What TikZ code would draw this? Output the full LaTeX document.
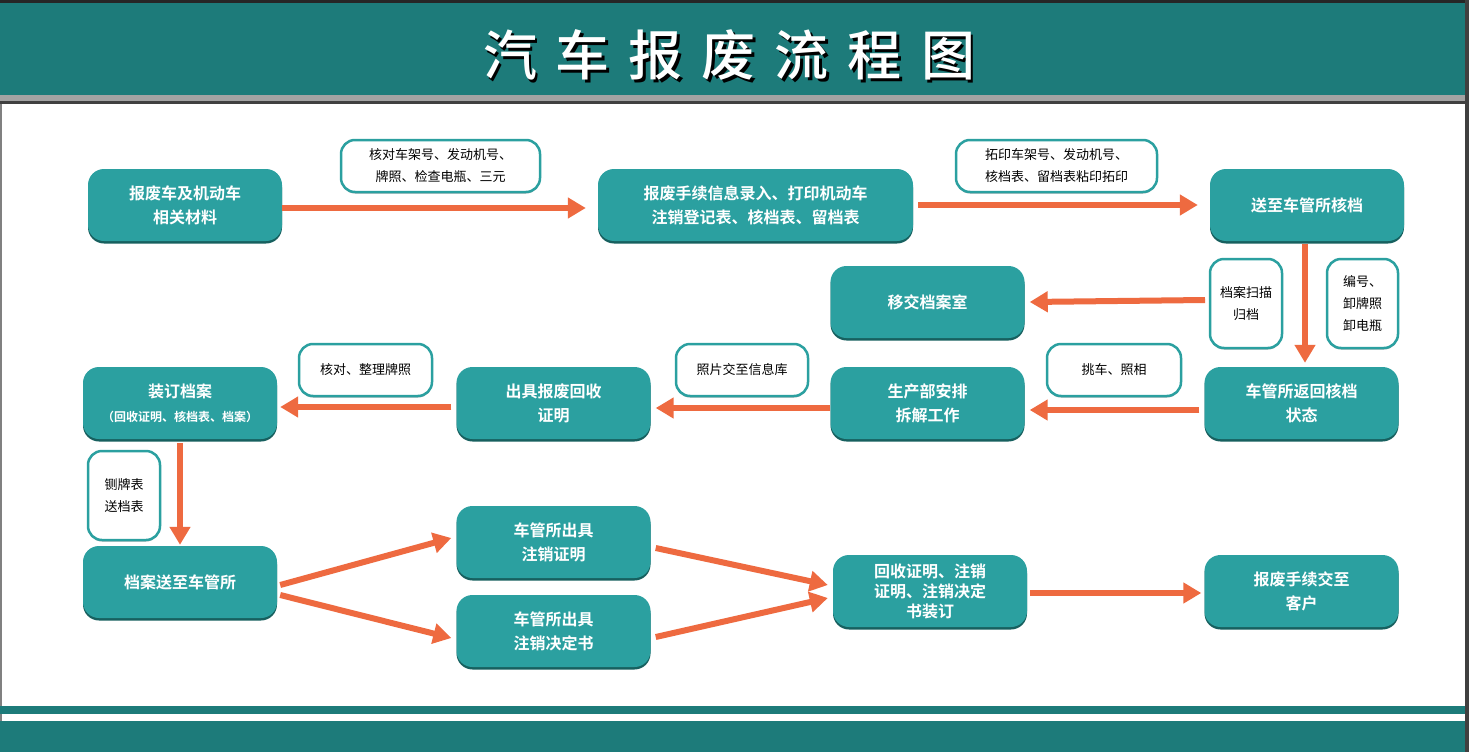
\documentclass[tikz,border=0pt]{standalone}
\usepackage{fontspec}
\setmainfont{Noto Sans CJK SC}
\newfontfamily\cjkb{Noto Sans CJK SC Bold}
\newfontfamily\cjkm{Noto Sans CJK SC Medium}
\usetikzlibrary{arrows.meta,shadows}
\definecolor{tealbox}{HTML}{2BA0A0}
\definecolor{tealdark}{HTML}{1D7B7A}
\definecolor{tealshadow}{HTML}{17605F}
\definecolor{arrowc}{HTML}{EE6A40}
\definecolor{grayband}{HTML}{A3A3A3}
\begin{document}
\begin{tikzpicture}[x=1pt,y=-1pt,
  box/.style={rounded corners=16pt,fill=tealbox,minimum width=194pt,minimum height=72pt,
    text=white,font=\cjkb\fontsize{16}{24}\selectfont,align=center,inner sep=2pt,
    drop shadow={shadow xshift=0pt,shadow yshift=-2.5pt,fill=tealshadow,opacity=1}},
  lab/.style={rounded corners=14pt,draw=tealbox,line width=2.5pt,fill=white,
    minimum height=52pt,font=\fontsize{13}{22}\selectfont,align=center,inner sep=2pt,
    drop shadow={shadow xshift=0pt,shadow yshift=-1.5pt,fill=gray!60,opacity=1}},
  arr/.style={draw=arrowc,line width=6pt,-{Triangle[length=18pt,width=20pt]}}]
\useasboundingbox (0,0) rectangle (1469,752);
% frame
\fill[white] (0,0) rectangle (1469,752);
\fill[black!85] (0,0) rectangle (1469,3);
\fill[tealdark] (0,3) rectangle (1469,95);
\fill[grayband] (0,95) rectangle (1469,101);
\fill[black!75] (0,101) rectangle (1469,104);
\fill[gray] (0,104) rectangle (2,752);
\fill[black!75] (1465,0) rectangle (1469,752);
\fill[tealdark] (0,706) rectangle (1465,714);
\fill[tealdark] (0,721) rectangle (1465,752);
% title (with shadow)
\node[text=black,font=\cjkm\fontsize{54}{60}\selectfont] (tsh) at (731.5,57.5) {汽\hspace{19pt}车\hspace{19pt}报\hspace{19pt}废\hspace{19pt}流\hspace{19pt}程\hspace{19pt}图};
\node[text=white,font=\cjkm\fontsize{54}{60}\selectfont] (title) at (729,55) {汽\hspace{19pt}车\hspace{19pt}报\hspace{19pt}废\hspace{19pt}流\hspace{19pt}程\hspace{19pt}图};
% boxes
\node[box] (A) at (185,205) {报废车及机动车\\相关材料};
\node[box,minimum width=315pt] (B) at (755.5,205) {报废手续信息录入、打印机动车\\注销登记表、核档表、留档表};
\node[box] (C) at (1307,205) {送至车管所核档};
\node[box] (D) at (927.5,302) {移交档案室};
\node[box] (E) at (1301.5,403) {车管所返回核档\\状态};
\node[box] (F) at (927.5,403) {生产部安排\\拆解工作};
\node[box] (G) at (553.5,403) {出具报废回收\\证明};
\node[box] (H) at (180,403) {装订档案\\{\fontsize{12}{20}\selectfont（回收证明、核档表、档案）}};
\node[box] (I) at (180,582) {档案送至车管所};
\node[box] (J) at (553.5,542) {车管所出具\\注销证明};
\node[box] (K) at (553.5,631) {车管所出具\\注销决定书};
\node[box,font=\cjkb\fontsize{16}{20}\selectfont] (L) at (930,591) {回收证明、注销\\证明、注销决定\\书装订};
\node[box] (M) at (1301.5,591) {报废手续交至\\客户};
% labels
\node[lab,minimum width=199pt] (l1) at (440.5,166) {核对车架号、发动机号、\\牌照、检查电瓶、三元};
\node[lab,minimum width=201pt] (l2) at (1056.5,166) {拓印车架号、发动机号、\\核档表、留档表粘印拓印};
\node[lab,minimum width=72pt,minimum height=89pt] (l3) at (1246,303.5) {档案扫描\\归档};
\node[lab,minimum width=71pt,minimum height=89pt] (l4) at (1362.5,303.5) {编号、\\卸牌照\\卸电瓶};
\node[lab,minimum width=134pt] (l5) at (1114,370) {挑车、照相};
\node[lab,minimum width=132pt] (l6) at (742,370) {照片交至信息库};
\node[lab,minimum width=133pt] (l7) at (365.5,370) {核对、整理牌照};
\node[lab,minimum width=72pt,minimum height=89pt] (l8) at (124,495.5) {铡牌表\\送档表};
% arrows
\coordinate (dsrc) at (1205,300);
\draw[arr] ([yshift=-3pt]A.east) -- ([yshift=-3pt,xshift=-12pt]B.west);
\draw[arr] ([xshift=5pt]B.east) -- ([xshift=-12pt]C.west);
\draw[arr] ([xshift=-2pt,yshift=-3pt]C.south) -- ([xshift=-2pt,yshift=4pt]C.south |- E.north);
\draw[arr] (dsrc) -- ([xshift=5pt]D.east);
\draw[arr] ([yshift=-7pt,xshift=-5pt]E.west) -- ([yshift=-7pt,xshift=5pt]F.east);
\draw[arr] ([yshift=-5pt]F.west) -- ([yshift=-5pt,xshift=5pt]G.east);
\draw[arr] ([yshift=-4pt,xshift=-5pt]G.west) -- ([yshift=-4pt,xshift=3pt]H.east);
\draw[arr] ([yshift=-4pt]H.south) -- ([yshift=1pt]I.north);
\draw[arr] ([yshift=-3pt,xshift=3pt]I.east) -- ([yshift=4pt,xshift=-5pt]J.west);
\draw[arr] ([yshift=-13pt,xshift=3pt]I.east) -- ([yshift=-7pt,xshift=-5pt]K.west);
\draw[arr] ([yshift=-6pt,xshift=5pt]J.east) -- ([yshift=6pt,xshift=-5pt]L.west);
\draw[arr] ([yshift=-6pt,xshift=5pt]K.east) -- ([yshift=-7pt,xshift=-5pt]L.west);
\draw[arr] ([yshift=-2pt,xshift=3pt]L.east) -- ([yshift=-2pt,xshift=-3pt]M.west);
\end{tikzpicture}
\end{document}
